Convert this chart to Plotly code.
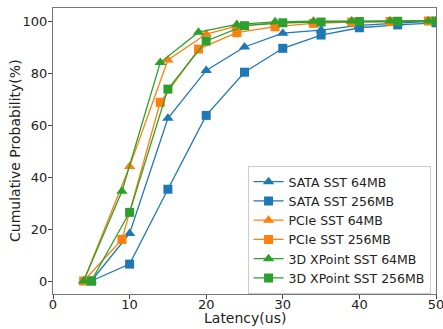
import plotly.graph_objects as go

names = ["SATA SST 64MB", "SATA SST 256MB", "PCIe SST 64MB", "PCIe SST 256MB",
         "3D XPoint SST 64MB", "3D XPoint SST 256MB"]
sata64_x = [5, 10, 15, 20, 25, 30, 35, 40, 45, 50]
sata64_y = [0, 18.3, 62.6, 81, 90, 95.3, 96.5, 98.3, 99.2, 100]
sata256_x = [5, 10, 15, 20, 25, 30, 35, 40, 45, 50]
sata256_y = [0, 6.5, 35.3, 63.7, 80.3, 89.5, 94.6, 97.4, 98.5, 99.3]
pcie64_x = [4, 10, 15, 20, 24, 29, 34, 39, 44, 49]
pcie64_y = [0, 44, 85, 95, 98, 99.3, 99.6, 99.8, 99.9, 100]
pcie256_x = [4, 9, 14, 19, 24, 29, 34, 39, 44, 49]
pcie256_y = [0, 16, 68.7, 89.2, 95.5, 97.8, 99.1, 99.6, 99.8, 100]
xp64_x = [4, 9, 14, 19, 24, 29, 34, 39, 44, 49]
xp64_y = [0, 34.5, 84, 95.7, 98.7, 99.7, 99.9, 100, 100, 100]
xp256_x = [5, 10, 15, 20, 25, 30, 35, 40, 45, 50]
xp256_y = [0, 26.4, 73.8, 92.3, 98.2, 99.3, 99.6, 99.8, 99.9, 100]

series = [(sata64_x, sata64_y), (sata256_x, sata256_y), (pcie64_x, pcie64_y),
          (pcie256_x, pcie256_y), (xp64_x, xp64_y), (xp256_x, xp256_y)]
colors = ["#1f77b4", "#1f77b4", "#ff7f0e", "#ff7f0e", "#2ca02c", "#2ca02c"]
symbols = ["triangle-up", "square", "triangle-up", "square", "triangle-up", "square"]

fig = go.Figure()
for (x, y), n, c, s in zip(series, names, colors, symbols):
    fig.add_trace(go.Scatter(
        x=x, y=y, name=n, mode="lines+markers",
        line=dict(color=c, width=1.3),
        marker=dict(symbol=s, size=9 if s == "square" else 10, color=c,
                    line=dict(width=0)),
    ))

font = dict(family="DejaVu Sans", size=13, color="#222")
title_font = dict(family="DejaVu Sans", size=14, color="#222")
axis_common = dict(showgrid=False, zeroline=False, showline=True, mirror=True,
                   linecolor="#777", linewidth=1, ticks="outside", ticklen=4,
                   tickcolor="#444", tickfont=font, automargin=False,
                   ticklabeloverflow="allow")
fig.update_layout(
    width=443, height=329,
    margin=dict(l=53, r=7, t=8, b=35, autoexpand=False),
    plot_bgcolor="white", paper_bgcolor="white",
    font=font,
    xaxis=dict(range=[0, 50], tickvals=[0, 10, 20, 30, 40, 50], ticklabelstandoff=-6,
               **axis_common),
    yaxis=dict(range=[-5, 105], tickvals=[0, 20, 40, 60, 80, 100], ticklabelstandoff=-2,
               **axis_common),
    legend=dict(x=0.508, y=0.0, xanchor="left", yanchor="bottom",
                bgcolor="rgba(255,255,255,0.9)", bordercolor="#ccc", borderwidth=1,
                font=dict(family="DejaVu Sans", size=12.5, color="#222"),
                tracegroupgap=0, itemwidth=30),
    annotations=[
        dict(text="Latency(us)", xref="paper", yref="paper", x=0.5, y=0,
             xanchor="center", yanchor="middle", yshift=-24, showarrow=False,
             font=title_font),
        dict(text="Cumulative Probability(%)", xref="paper", yref="paper", x=0, y=0.5,
             xanchor="center", yanchor="middle", xshift=-38, textangle=-90,
             showarrow=False, font=title_font),
    ],
)
fig.write_html("out.html")
